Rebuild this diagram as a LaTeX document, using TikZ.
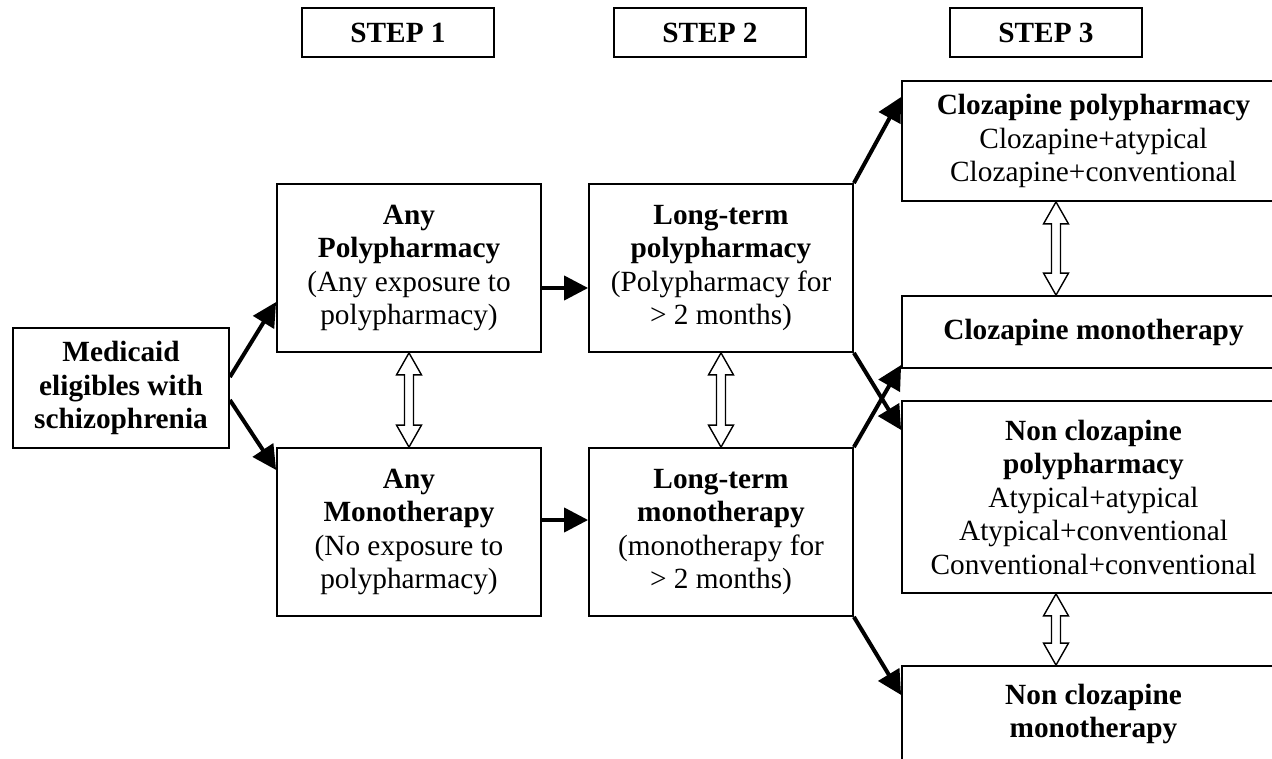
\documentclass[tikz,border=0pt]{standalone}
\usepackage{fontspec}
\setmainfont{Liberation Serif}
\usetikzlibrary{arrows.meta,calc}
\newcommand\fsz{\fontsize{29.3}{33.5}\selectfont}
\newcommand\dblarr[2]{\draw[dbl] (#1) -- ++(12.5,22) -- ++(-8,0) -- ($(#2)+(4.5,-22)$) -- ++(8,0) -- (#2) -- ++(-12.5,-22) -- ++(8,0) -- ($(#1)+(-4.5,22)$) -- ++(-8,0) -- cycle;}
\begin{document}
\begin{tikzpicture}[x=1pt,y=-1pt,
  box/.style={draw, line width=1.8pt, inner sep=0pt, align=center, font=\fsz},
  arr/.style={line width=4pt, -{Triangle[length=24pt,width=24pt]}},
  dbl/.style={draw, line width=1.4pt, fill=white, line join=miter},
]
\useasboundingbox (0,0) rectangle (1272,759);
\clip (0,0) rectangle (1272,759);
\fill[white] (0,0) rectangle (1272,759);

% step headers
\node[box, minimum width=192pt, minimum height=49pt] (s1) at (398,32.5) {\bfseries STEP 1};
\node[box, minimum width=192pt, minimum height=49pt] (s2) at (710,32.5) {\bfseries STEP 2};
\node[box, minimum width=192pt, minimum height=49pt] (s3) at (1046,32.5) {\bfseries STEP 3};

% boxes
\node[box, minimum width=216pt, minimum height=120pt] (med) at (121,388)
  {\bfseries Medicaid\\\bfseries eligibles with\\\bfseries schizophrenia};
\node[box, minimum width=264pt, minimum height=168pt] (anypoly) at (409,268)
  {\bfseries Any\\\bfseries Polypharmacy\\(Any exposure to\\polypharmacy)};
\node[box, minimum width=264pt, minimum height=168pt] (anymono) at (409,532)
  {\bfseries Any\\\bfseries Monotherapy\\(No exposure to\\polypharmacy)};
\node[box, minimum width=264pt, minimum height=168pt] (ltpoly) at (721,268)
  {\bfseries Long-term\\\bfseries polypharmacy\\(Polypharmacy for\\> 2 months)};
\node[box, minimum width=264pt, minimum height=168pt] (ltmono) at (721,532)
  {\bfseries Long-term\\\bfseries monotherapy\\(monotherapy for\\> 2 months)};
\node[box, minimum width=383pt, minimum height=120pt] (clozpoly) at (1093.5,141)
  {\bfseries Clozapine polypharmacy\\Clozapine+atypical\\Clozapine+conventional};
\node[box, minimum width=383pt, minimum height=72pt] (clozmono) at (1093.5,332)
  {\bfseries Clozapine monotherapy};
\node[box, minimum width=383pt, minimum height=192pt] (nonclozpoly) at (1093.5,497)
  {\bfseries Non clozapine\\\bfseries polypharmacy\\Atypical+atypical\\Atypical+conventional\\Conventional+conventional};
\node[box, minimum width=383pt, minimum height=96pt] (nonclozmono) at (1093.5,714)
  {\bfseries Non clozapine\\\bfseries monotherapy};

% arrows
\draw[arr] ([yshift=11pt]med.east) -- ([yshift=-34pt]anypoly.west);
\draw[arr] ([yshift=-12pt]med.east) -- ([yshift=62pt]anymono.west);
\draw[arr] ([yshift=-20pt]anypoly.east) -- ([yshift=-20pt]ltpoly.west);
\draw[arr] ([yshift=12pt]anymono.east) -- ([yshift=12pt]ltmono.west);
\draw[arr] (ltpoly.north east) -- ([yshift=44pt]clozpoly.west);
\draw[arr] (ltpoly.south east) -- ([yshift=67pt]nonclozpoly.west);
\draw[arr] (ltmono.north east) -- ([yshift=-33pt]clozmono.west);
\draw[arr] (ltmono.south east) -- ([yshift=19pt]nonclozmono.west);

% double arrows
\coordinate (d1t) at (anypoly.south);
\coordinate (d1b) at (anymono.north);
\coordinate (d2t) at (ltpoly.south);
\coordinate (d2b) at (ltmono.north);
\coordinate (d3t) at ([xshift=-37.5pt]clozpoly.south);
\coordinate (d3b) at ([xshift=-37.5pt]clozmono.north);
\coordinate (d4t) at ([xshift=-37.5pt]nonclozpoly.south);
\coordinate (d4b) at ([xshift=-37.5pt]nonclozmono.north);
\dblarr{d1t}{d1b}
\dblarr{d2t}{d2b}
\dblarr{d3t}{d3b}
\dblarr{d4t}{d4b}
\end{tikzpicture}
\end{document}
